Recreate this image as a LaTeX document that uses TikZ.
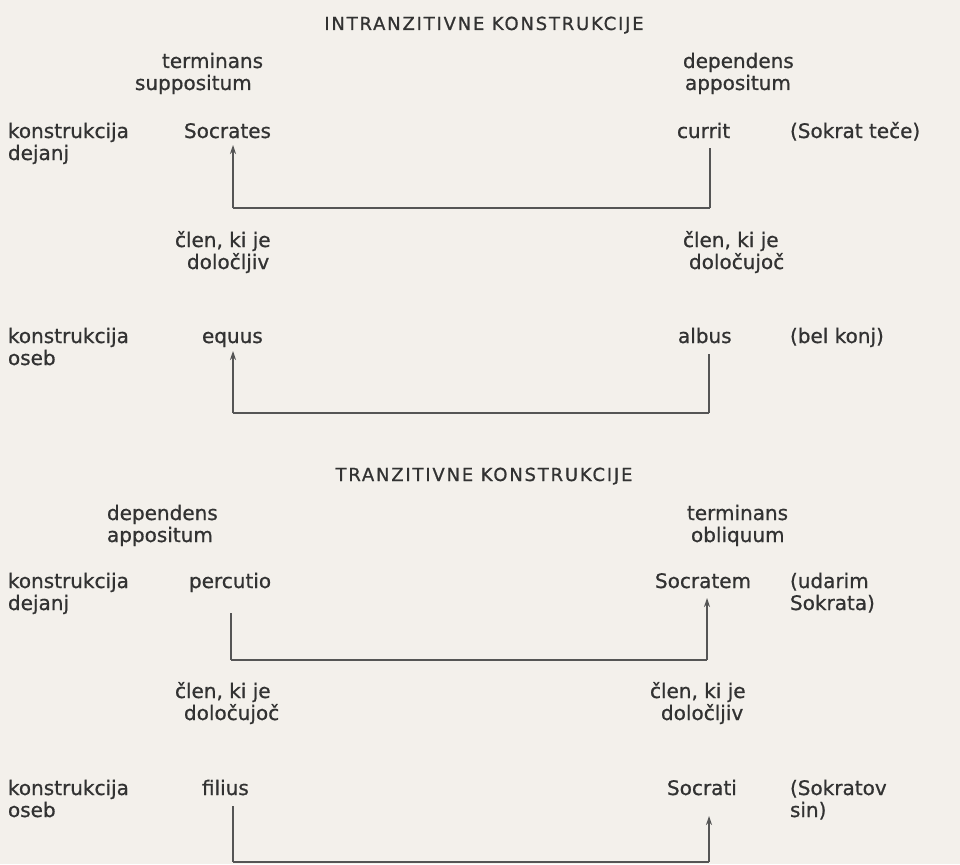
\documentclass[tikz,border=0pt]{standalone}
\usepackage{fontspec}
\usetikzlibrary{arrows.meta}
\newfontfamily\bodyfont[FakeBold=0.8]{DejaVu Sans}
\newfontfamily\titlefont[LetterSpace=10,FakeBold=0.8]{DejaVu Sans}
\definecolor{paper}{RGB}{243,240,235}
\definecolor{ink}{RGB}{50,50,50}
\definecolor{rule}{RGB}{85,85,85}
\begin{document}
\begin{tikzpicture}[x=1pt,y=-1pt,
  txt/.style={anchor=base west,inner sep=0pt,outer sep=0pt,text=ink,font=\bodyfont\fontsize{20}{22}\selectfont},
  ttl/.style={anchor=base,inner sep=0pt,text=ink,font=\titlefont\fontsize{18}{20}\selectfont},
  vline/.style={draw=rule,line width=1.2pt},
  hline/.style={draw=rule,line width=1.8pt},
  arr/.style={vline,-{Stealth[length=9pt,width=6pt]}}]
\fill[paper] (0,0) rectangle (960,864);
\useasboundingbox (0,0) rectangle (960,864);

% ---------- INTRANZITIVNE
\node[ttl] (t1) at (484,30) {INTRANZITIVNE\ KONSTRUKCIJE};
\node[txt] (a1) at (162,68) {terminans};
\node[txt] (a2) at (135,90) {suppositum};
\node[txt] (a3) at (683,68) {dependens};
\node[txt] (a4) at (685,90) {appositum};

\node[txt] (k1) at (8,138) {konstrukcija};
\node[txt] (k1b) at (8,160) {dejanj};
\node[txt] (w1l) at (184,138) {Socrates};
\node[txt] (w1r) at (677,138) {currit};
\node[txt] (g1) at (790,138) {(Sokrat teče)};
\coordinate (p1a) at (233,145);
\coordinate (p1b) at (233,208);
\coordinate (p1c) at (710,208);
\coordinate (p1d) at (710,148);
\draw[vline] (p1d) -- (p1c);
\draw[arr] (p1b) -- (p1a);
\draw[hline] (p1b) -- (p1c);
\node[txt] (c1) at (175,247) {člen, ki je};
\node[txt] (c1b) at (187,269) {določljiv};
\node[txt] (c2) at (683,247) {člen, ki je};
\node[txt] (c2b) at (689,269) {določujoč};

\node[txt] (k2) at (8,343) {konstrukcija};
\node[txt] (k2b) at (8,365) {oseb};
\node[txt] (w2l) at (202,343) {equus};
\node[txt] (w2r) at (678,343) {albus};
\node[txt] (g2) at (790,343) {(bel konj)};
\coordinate (p2a) at (233,351);
\coordinate (p2b) at (233,413);
\coordinate (p2c) at (709,413);
\coordinate (p2d) at (709,354);
\draw[vline] (p2d) -- (p2c);
\draw[arr] (p2b) -- (p2a);
\draw[hline] (p2b) -- (p2c);

% ---------- TRANZITIVNE
\node[ttl] (t2) at (484,481) {TRANZITIVNE\ KONSTRUKCIJE};
\node[txt] (b1) at (107,520) {dependens};
\node[txt] (b2) at (107,542) {appositum};
\node[txt] (b3) at (687,520) {terminans};
\node[txt] (b4) at (691,542) {obliquum};

\node[txt] (k3) at (8,588) {konstrukcija};
\node[txt] (k3b) at (8,610) {dejanj};
\node[txt] (w3l) at (189,588) {percutio};
\node[txt] (w3r) at (655,588) {Socratem};
\node[txt] (g3) at (790,588) {(udarim};
\node[txt] (g3b) at (790,610) {Sokrata)};
\coordinate (p3a) at (231,613);
\coordinate (p3b) at (231,660);
\coordinate (p3c) at (707,660);
\coordinate (p3d) at (707,598);
\draw[vline] (p3a) -- (p3b);
\draw[arr] (p3c) -- (p3d);
\draw[hline] (p3b) -- (p3c);
\node[txt] (c3) at (175,698) {člen, ki je};
\node[txt] (c3b) at (184,720) {določujoč};
\node[txt] (c4) at (650,698) {člen, ki je};
\node[txt] (c4b) at (661,720) {določljiv};

\node[txt] (k4) at (8,795) {konstrukcija};
\node[txt] (k4b) at (8,817) {oseb};
\node[txt] (w4l) at (202,795) {filius};
\node[txt] (w4r) at (667,795) {Socrati};
\node[txt] (g4) at (790,795) {(Sokratov};
\node[txt] (g4b) at (790,817) {sin)};
\coordinate (p4a) at (233,806);
\coordinate (p4b) at (233,862);
\coordinate (p4c) at (709,862);
\coordinate (p4d) at (709,816);
\draw[vline] (p4a) -- (p4b);
\draw[arr] (p4c) -- (p4d);
\draw[hline] (p4b) -- (p4c);
\end{tikzpicture}
\end{document}
